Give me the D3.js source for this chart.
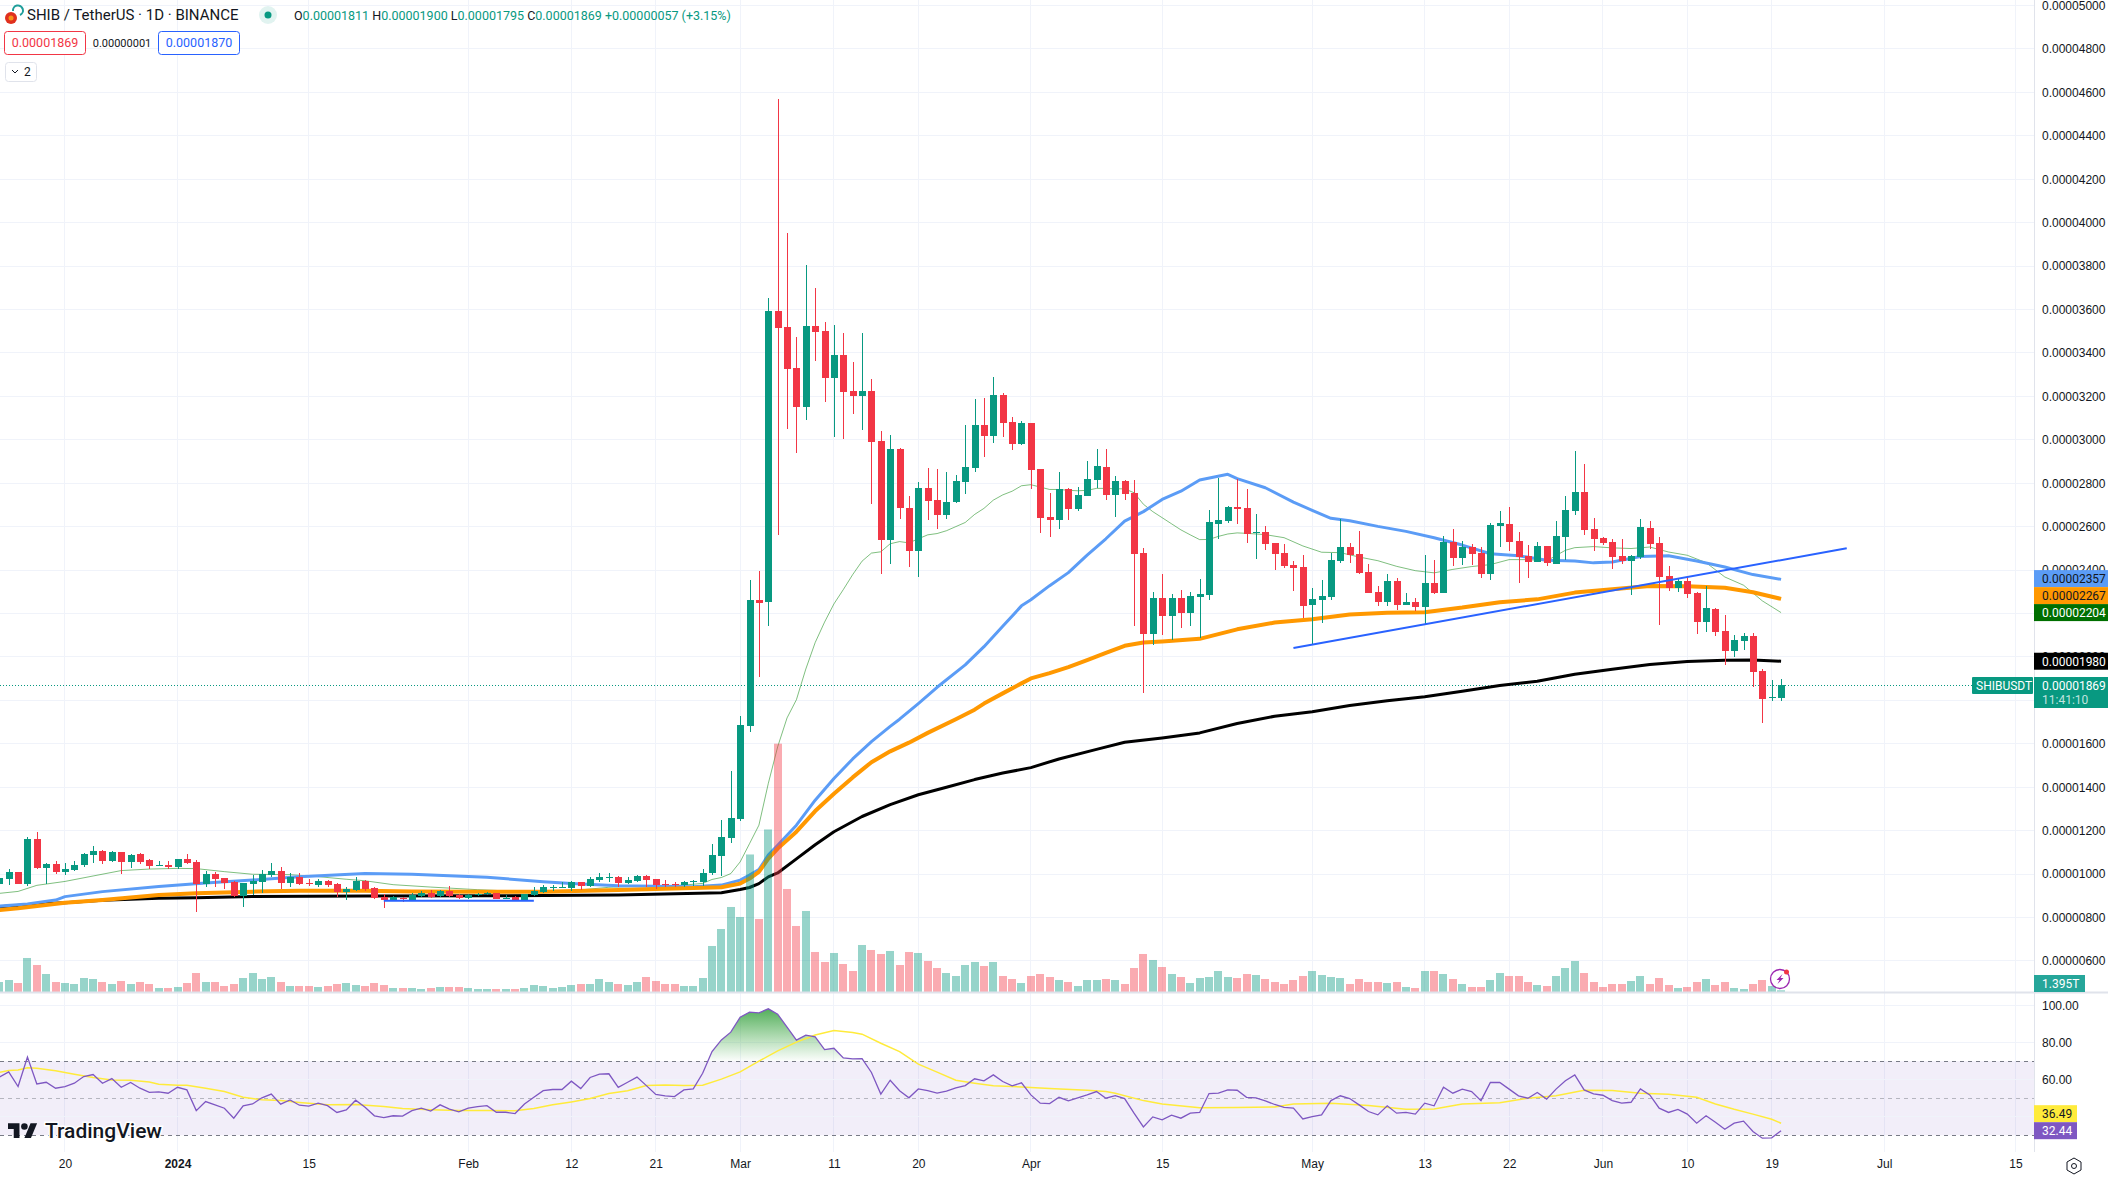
<!DOCTYPE html>
<meta charset="utf-8">
<head>
    <title>SHIB / TetherUS</title>
</head>
<style>
 html, body { margin: 0; padding: 0; background: #fff; }
 svg { display: block; font-family: Roboto, sans-serif; }
 .axis text { font-size: 12px; fill: #131722; }
 .axis .domain { display: none; }
 .grid { stroke: #f0f3fa; stroke-width: 1px; shape-rendering: crispEdges; }
</style>
<body>
<div id="chart"></div>
<script src="https://d3js.org/d3.v7.min.js"></script>
<script>
// prices are in units of 0.00000001, day 0 is 1 Jan 2024, first candle is day -19
var firstDay = -19;
var opens = [
 954,977,1009,954,1162,1028,1046,1009,1019,1042,
 1088,1106,1060,1102,1056,1092,1065,1039,1042,1032,
 1069,1056,954,1000,982,963,899,954,963,996,
 1014,959,986,959,949,968,954,917,926,968,
 936,894,880,889,880,899,912,899,922,903,
 889,903,908,912,885,894,880,903,917,936,
 937,936,963,945,972,983,986,959,968,991,
 977,954,954,949,965,963,1005,1084,1167,1253,
 1681,2261,2253,3592,3518,3329,3153,3522,3500,3284,
 3389,3224,3202,3224,2995,2540,2958,2684,2489,2778,
 2724,2654,2714,2806,2870,3069,3018,3205,3082,2980,
 3078,2866,2645,2632,2774,2679,2742,2816,2873,2744,
 2808,2753,2477,2104,2270,2187,2270,2201,2276,2284,
 2610,2624,2689,2684,2569,2574,2523,2477,2422,2413,
 2238,2261,2275,2440,2505,2472,2390,2298,2252,2348,
 2238,2252,2229,2339,2293,2528,2454,2505,2477,2380,
 2601,2610,2532,2463,2436,2509,2426,2551,2670,2758,
 2587,2546,2528,2463,2440,2459,2592,2523,2371,2316,
 2348,2293,2160,2219,2118,2026,2072,2095,1934,1810,1811];
var highs = [
 990,1022,1009,1171,1194,1049,1060,1049,1060,1096,
 1129,1111,1105,1102,1092,1099,1069,1060,1060,1069,
 1092,1065,1014,1009,982,968,959,996,1019,1051,
 1032,1005,1005,977,979,972,959,940,986,972,
 940,908,899,894,912,922,926,926,945,908,
 908,912,917,912,903,899,908,940,949,949,
 963,968,963,985,1005,1005,991,986,996,996,
 977,972,963,968,972,1023,1140,1248,1474,1727,
 2356,2394,3652,4570,3950,3472,3803,3697,3541,3528,
 3490,3357,3490,3279,3040,3022,2962,2742,2806,2870,
 2866,2853,2838,3069,3187,3192,3288,3215,3104,3087,
 3078,2866,2756,2853,2778,2784,2904,2958,2956,2831,
 2816,2816,2500,2301,2384,2288,2307,2298,2357,2675,
 2822,2693,2818,2772,2657,2601,2523,2518,2440,2468,
 2316,2353,2480,2633,2523,2578,2426,2325,2380,2362,
 2293,2273,2468,2445,2555,2587,2532,2518,2505,2615,
 2670,2689,2574,2514,2528,2509,2624,2739,2946,2887,
 2638,2551,2541,2541,2468,2633,2624,2551,2417,2362,
 2367,2298,2325,2224,2192,2100,2109,2109,1943,1893,1900];
var lows = [
 950,951,954,945,1022,954,1000,997,1016,1034,
 1052,1046,1056,1000,1028,1046,1023,1037,1023,1023,
 1046,825,940,940,931,896,848,903,912,986,
 931,940,949,945,940,940,894,880,922,922,
 885,843,879,871,879,893,889,893,894,883,
 883,899,903,885,883,880,880,899,914,922,
 936,922,926,940,965,963,940,954,965,940,
 931,940,940,940,945,945,995,992,1144,1245,
 1655,1906,2141,2561,3050,2937,3093,3363,3172,3014,
 3003,3119,3046,2705,2384,2429,2636,2416,2369,2632,
 2587,2636,2711,2752,2853,2920,2986,3012,2954,2977,
 2771,2572,2553,2591,2632,2673,2742,2778,2721,2643,
 2721,2141,1833,2054,2100,2077,2132,2141,2089,2261,
 2541,2615,2610,2523,2449,2491,2399,2408,2302,2178,
 2058,2157,2261,2431,2431,2380,2293,2233,2233,2215,
 2238,2210,2153,2288,2293,2417,2422,2422,2362,2353,
 2505,2486,2339,2362,2436,2417,2426,2445,2652,2560,
 2486,2514,2403,2426,2284,2449,2495,2146,2302,2298,
 2270,2104,2114,2095,1962,2001,2031,1861,1695,1796,1795];
var closes = [
 982,1009,954,1162,1028,1046,1009,1023,1042,1092,
 1106,1060,1102,1056,1088,1056,1037,1042,1032,1069,
 1051,954,1000,977,959,899,959,968,1000,1014,
 959,986,954,954,968,949,917,931,968,931,
 889,880,894,885,903,912,894,922,899,889,
 903,908,912,885,889,880,908,922,940,940,
 940,963,945,977,986,986,959,972,991,972,
 949,949,949,963,968,1005,1087,1170,1256,1686,
 2261,2249,3592,3515,3325,3153,3522,3496,3284,3389,
 3220,3202,3224,2990,2540,2958,2684,2489,2778,2720,
 2654,2714,2812,2876,3069,3018,3205,3078,2980,3078,
 2862,2641,2632,2774,2679,2746,2819,2879,2744,2808,
 2749,2472,2104,2270,2187,2270,2201,2279,2288,2620,
 2629,2689,2680,2564,2574,2518,2472,2417,2408,2233,
 2265,2279,2445,2505,2468,2385,2293,2252,2348,2238,
 2252,2229,2339,2293,2528,2454,2505,2472,2380,2606,
 2615,2528,2459,2436,2509,2431,2555,2675,2758,2583,
 2541,2523,2459,2440,2463,2597,2518,2367,2316,2348,
 2288,2160,2224,2114,2026,2077,2095,1930,1805,1815,1869];
// volume in trillions
var volumes = [
 8,9.6,7.2,27.2,21.6,14.4,8,7.2,6.4,11.2,
 10.4,8,6.4,8.8,6.4,8,6.4,3.2,3.2,4,
 7.2,15.2,8,8,4.8,6.4,11.2,15.2,10.4,12,
 8,4.8,4.8,4.8,4,4.8,6.4,7.2,5.6,4.8,
 7.2,5.6,3.2,3.2,3.2,2.4,3.2,4,4,4,
 3.2,2.4,2.4,2.4,2.4,2.4,3.2,5.6,4.8,3.2,
 4,5.6,6.4,6.4,10.4,8,6.4,5.6,8,12,
 8.8,6.4,6.4,4.8,4.8,11.2,36.8,50.4,68,60,
 110,58.4,130,198.6,82.4,52.8,64.8,32,24,31.2,
 22.4,16.8,37.6,33.6,30.4,32.8,21.6,32,31.2,24.8,
 19.2,15.2,12.8,21.6,24,20.8,24,12.8,10.4,7.2,
 12.8,14.4,12,9.6,8,4.8,9.6,9.6,10.4,9.6,
 6.4,19.2,30.4,25.6,20,14.4,12,7.2,11.2,12,
 16.8,12,11.2,14.4,13.6,10.4,8,6.4,9.6,12.8,
 16.8,13.6,12,11.2,6.4,10.4,8,8,7.2,8,
 4,3.2,16.8,16.8,14.4,10.4,6.4,4,4,9.6,
 15.2,12.8,12.8,8,5.6,4.8,12.8,19.2,24.8,15.2,
 8,4,6.4,6.4,8.8,12.8,6.4,11.2,5.6,3.2,
 4,8,10.4,5.6,8,3.2,2.4,6.4,9.6,4.8,1.395];
var rsi = [
 61.4,64.2,56.3,72.2,57.7,58.6,55.4,56.3,58.1,61.7,
 62.8,58.1,60.6,55.9,58.5,55.4,53.2,53.4,52.7,55.9,
 54.5,43.3,48.2,46.4,44.6,39.2,45.9,46.9,50.2,52.2,
 46.8,49.1,46.2,45.7,47.3,46,42.3,43.7,48.9,45.1,
 40.5,39.5,40.5,40.3,43.3,44.6,43,46.4,44.1,42.6,
 44.6,45.5,46,42.4,42.4,41.7,46.9,50.5,54.1,54.7,
 54.7,59.2,55.2,61.2,63,63.2,55.9,58.6,61.4,56.8,
 52,51.3,50.9,54.5,55,63.5,75.2,81.5,85.7,93.8,
 96.5,96.1,98.3,95.4,88.4,81.4,84.1,83.2,76.3,77,
 71.8,71.3,71.4,63.9,52.2,59.7,54,50.2,55,54.1,
 52.7,53.8,55.6,56.8,60.5,59.4,62.6,59,56.7,58.3,
 51.8,47.3,47.1,50.5,48.6,50.2,51.8,53.6,50,51.4,
 49.8,41.9,34.5,39.9,38.3,40.8,39.2,41.9,42.3,52.5,
 52.7,54.5,54.3,50.5,50.2,48.6,46.6,45,44.6,38.8,
 40.1,41,48.7,51.3,49.8,46.4,42.8,41,45.9,41.9,
 42.3,41.4,47.3,45.9,55.9,52.7,54.9,53.6,48.7,58.5,
 58.5,54.9,51.3,50,53.1,49.5,54.9,59.4,62.6,54.5,
 52.3,51.6,48.7,47.3,47.8,55,51.8,44.6,42.3,43.9,
 41.4,36.5,40.5,37,33.2,36.5,37.6,32,28.4,28.6,32.44];
var rsiMaDays = [-19,-18,-17,-16,-15,-13,-11,-9,-7,-5,-3,-2,0,1,3,5,7,9,11,13,16,19,22,24,27,30,33,36,38,40,
 42,44,46,48,50,52,54,56,58,60,62,64,66,68,70,72,73,75,77,79,81,83,85,87,90,93,97,99,
 100,103,105,109,113,117,119,123,127,131,134,137,141,144,147,150,153,156,159,162,164,166,168,170,171];
var rsiMa = [64,65,65.3,66.4,66.2,64.8,63,61.2,59.9,59.7,58.8,57.6,57,57,55.4,53.6,50.5,49.1,48.7,47.7,46.4,46.6,45.5,44.4,43.7,43.3,43.3,43.2,44.4,46.4,
 48,49.8,52.5,54,56.8,57.2,56.8,57,60.3,64.2,70,75.6,80.3,84.2,86.6,85.5,84.6,79.7,75.2,68.4,64.1,59.7,58.1,56.7,56.1,55.2,54.3,53.6,
 52.7,48.7,46.9,44.8,45,45.3,46.9,47.3,46,44,44.2,46.9,47.5,50,51.3,54.3,54.1,52.7,52.2,50.5,46.9,44,41.4,38.6,36.49];

var greenMaDays = [-19,-17,-15,-12,-9,-6,-3,0,2,5,8,12,15,18,20,23,27,32,37,42,46,50,54,56,57,58,59,60,61,62,63,64,
 65,66,67,68,69,70,71,72,73,74,75,76,77,78,79,80,81,82,83,84,85,86,87,88,89,90,91,92,93,94,95,96,97,98,99,100,101,102,103,104,105,106,107,108,109,
 110,111,112,113,114,116,118,120,122,124,126,128,130,132,134,136,138,140,142,144,146,148,149,151,153,155,157,159,161,163,165,167,169,171];
var greenMa = [911,920,948,966,991,1016,1023,1026,1025,1011,999,997,988,976,969,951,940,928,919,923,939,945,949,957,975,984,1002,1056,1140,1225,1417,1586,
 1719,1803,1944,2066,2160,2244,2310,2379,2441,2478,2484,2521,2531,2525,2544,2562,2568,2581,2600,2619,2656,2684,2722,2746,2763,2788,2793,2782,2771,2771,2767,2765,2767,2776,2776,2774,2774,2756,2703,2669,2641,2613,2585,2562,2540,
 2541,2555,2566,2571,2569,2563,2549,2511,2482,2480,2460,2443,2417,2397,2387,2403,2416,2425,2448,2448,2442,2491,2503,2508,2502,2499,2506,2483,2468,2434,2368,2330,2258,2204];
var blueMaDays = [-19,-16,-13,-12,-8,-2,3,8,13,20,25,33,39,42,47,55,58,60,61,62,63,64,66,68,70,72,74,76,77,79,81,84,86,88,90,91,93,95,97,99,101,103,105,107,109,112,113,116,119,121,123,125,128,131,134,137,140,143,146,149,151,153,156,159,162,165,168,171];
var blueMa = [852,862,880,896,919,943,959,972,988,1002,999,985,965,957,946,942,949,972,995,1021,1087,1133,1225,1340,1440,1530,1610,1680,1713,1785,1860,1963,2047,2141,2235,2263,2328,2388,2469,2544,2625,2669,2725,2763,2815,2841,2821,2779,2713,2675,2638,2627,2601,2578,2549,2515,2475,2466,2445,2442,2433,2437,2462,2466,2442,2414,2379,2357];
var orangeMaDays = [-19,-17,-12,-8,-2,2,8,13,20,25,33,39,47,58,60,61,62,63,64,66,68,70,72,74,76,78,80,83,85,86,88,90,91,93,95,97,99,101,103,105,109,113,117,121,125,129,133,137,141,145,149,153,157,161,165,168,171];
var orangeMa = [834,842,868,880,903,911,919,923,923,920,919,919,926,939,956,979,1010,1071,1117,1195,1290,1370,1445,1515,1565,1605,1650,1713,1757,1785,1832,1878,1901,1925,1953,1985,2019,2051,2066,2071,2083,2127,2158,2173,2195,2203,2206,2227,2252,2265,2296,2311,2327,2325,2318,2298,2267];
var blackMaDays = [-19,-15,-12,-8,-2,2,8,20,33,47,58,60,61,62,63,64,66,68,70,73,76,79,82,85,88,91,94,98,101,105,109,113,117,121,125,129,133,137,141,145,149,153,157,161,165,168,171];
var blackMa = [849,862,868,879,888,891,896,899,900,903,914,929,938,956,987,1005,1070,1135,1195,1265,1320,1365,1400,1435,1465,1490,1530,1574,1607,1627,1650,1693,1727,1747,1776,1798,1816,1842,1868,1888,1920,1943,1965,1979,1985,1986,1980];

var trendDaysA = [22, 38], trendPricesA = [877, 877];
var trendDaysB = [119, 178], trendPricesB = [2041, 2500];

var dateTickDays = [-12,0,14,31,42,51,60,70,79,91,105,121,133,142,152,161,170,182,196];
var dateTickLabels = ["20","2024","15","Feb","12","21","Mar","11","20","Apr","15","May","13","22","Jun","10","19","Jul","15"];
var priceTicks = d3.range(600, 5001, 200);
var rsiTicks = [100, 80, 60, 40];

var width = 2108, height = 1177;
var axisX = 2034, paneBottom = 992, rsiBottom = 1152;

var svg = d3.select("#chart").append("svg")
            .attr("width", width)
            .attr("height", height);

var x = d3.scaleLinear().domain([0, 170]).range([177.5, 1771.7]);
var y = d3.scaleLinear().domain([600, 5000]).range([960.9, 5.45]);
var yVol = d3.scaleLinear().domain([0, 198.6]).range([paneBottom, 743.7]);
var yRsi = d3.scaleLinear().domain([30, 100]).range([1135.2, 1005.7]);

var up = "#089981", down = "#f23645";
var days = opens.map(function(d, i) { return firstDay + i; });
var candles = days.map(function(d, i) {
    return {day: d, o: opens[i], h: highs[i], l: lows[i], c: closes[i], v: volumes[i], rsi: rsi[i]};
});

var defs = svg.append("defs");
defs.append("clipPath").attr("id", "clip-main").append("rect")
    .attr("width", axisX).attr("height", paneBottom);
defs.append("clipPath").attr("id", "clip-over").append("rect")
    .attr("width", axisX).attr("height", yRsi(70));
var grad = defs.append("linearGradient").attr("id", "rsi-fill")
    .attr("gradientUnits", "userSpaceOnUse")
    .attr("x1", 0).attr("x2", 0).attr("y1", yRsi(100)).attr("y2", yRsi(70));
grad.append("stop").attr("offset", 0).attr("stop-color", "#3fa548").attr("stop-opacity", 0.95);
grad.append("stop").attr("offset", 1).attr("stop-color", "#4caf50").attr("stop-opacity", 0.02);

// grid
svg.append("g").selectAll("line").data(priceTicks).enter().append("line")
   .attr("class", "grid")
   .attr("x1", 0).attr("x2", axisX)
   .attr("y1", function(d) { return y(d); }).attr("y2", function(d) { return y(d); });
svg.append("g").selectAll("line").data(dateTickDays).enter().append("line")
   .attr("class", "grid")
   .attr("x1", function(d) { return x(d); }).attr("x2", function(d) { return x(d); })
   .attr("y1", 0).attr("y2", rsiBottom);

// rsi pane background
svg.append("rect")
   .attr("x", 0).attr("width", axisX)
   .attr("y", yRsi(70)).attr("height", yRsi(30) - yRsi(70))
   .attr("fill", "#7e57c2").attr("fill-opacity", 0.1);
svg.append("g").selectAll("line").data(rsiTicks).enter().append("line")
   .attr("class", "grid")
   .attr("x1", 0).attr("x2", axisX)
   .attr("y1", function(d) { return yRsi(d); }).attr("y2", function(d) { return yRsi(d); });
svg.append("g").selectAll("line").data([70, 50, 30]).enter().append("line")
   .attr("x1", 0).attr("x2", axisX)
   .attr("y1", function(d) { return yRsi(d); }).attr("y2", function(d) { return yRsi(d); })
   .attr("stroke", "#787b86")
   .attr("stroke-opacity", function(d) { return d == 50 ? 0.5 : 1; })
   .attr("stroke-dasharray", "4 4")
   .attr("shape-rendering", "crispEdges");

var main = svg.append("g").attr("clip-path", "url(#clip-main)");

// last price line
main.append("line")
    .attr("x1", 0).attr("x2", 1972)
    .attr("y1", Math.round(y(1869)) + 0.5).attr("y2", Math.round(y(1869)) + 0.5)
    .attr("stroke", up).attr("stroke-dasharray", "1 2");

// moving averages
function drawMa(dayList, values, color, w, opacity) {
    var line = d3.line()
                 .x(function(d) { return x(d); })
                 .y(function(d, i) { return y(values[i]); });
    main.append("path")
        .attr("d", line(dayList))
        .attr("fill", "none")
        .attr("stroke", color)
        .attr("stroke-width", w)
        .attr("stroke-opacity", opacity)
        .attr("stroke-linejoin", "round");
}
drawMa(greenMaDays, greenMa, "#008000", 1, 0.5);
drawMa(blackMaDays, blackMa, "#000000", 3, 1);
drawMa(blueMaDays, blueMa, "#5b9cf6", 3, 1);
drawMa(orangeMaDays, orangeMa, "#ff9800", 4, 1);

// candles
var candle = main.append("g").selectAll("g").data(candles).enter().append("g")
    .attr("fill", function(d) { return d.c >= d.o ? up : down; });
candle.append("rect")
      .attr("x", function(d) { return Math.round(x(d.day)); })
      .attr("width", 1)
      .attr("y", function(d) { return Math.round(y(d.h)); })
      .attr("height", function(d) { return Math.max(1, Math.round(y(d.l)) - Math.round(y(d.h))); });
candle.append("rect")
      .attr("x", function(d) { return Math.round(x(d.day)) - 3; })
      .attr("width", 7)
      .attr("y", function(d) { return Math.round(y(Math.max(d.o, d.c))); })
      .attr("height", function(d) { return Math.max(1, Math.round(y(Math.min(d.o, d.c))) - Math.round(y(Math.max(d.o, d.c)))); });

// volume goes over the lines, half transparent
main.append("g").selectAll("rect").data(candles).enter().append("rect")
    .attr("x", function(d) { return Math.round(x(d.day)) - 4; })
    .attr("width", 8)
    .attr("y", function(d) { return yVol(d.v); })
    .attr("height", function(d) { return paneBottom - yVol(d.v); })
    .attr("fill", function(d) { return d.c >= d.o ? up : down; })
    .attr("fill-opacity", 0.42);

// drawn trend lines
function drawTrend(dayList, prices) {
    main.append("line")
        .attr("x1", x(dayList[0])).attr("x2", x(dayList[1]))
        .attr("y1", y(prices[0])).attr("y2", y(prices[1]))
        .attr("stroke", "#2962ff").attr("stroke-width", 2);
}
drawTrend(trendDaysA, trendPricesA);
drawTrend(trendDaysB, trendPricesB);

// rsi
var rsiLine = d3.line()
                .x(function(d) { return x(d.day); })
                .y(function(d) { return yRsi(d.rsi); });
var rsiArea = d3.area()
                .x(function(d) { return x(d.day); })
                .y0(yRsi(70))
                .y1(function(d) { return yRsi(d.rsi); });
svg.append("path").datum(candles)
   .attr("d", rsiArea)
   .attr("clip-path", "url(#clip-over)")
   .attr("fill", "url(#rsi-fill)");
svg.append("path")
   .attr("d", d3.line().x(function(d) { return x(d); }).y(function(d, i) { return yRsi(rsiMa[i]); })(rsiMaDays))
   .attr("fill", "none").attr("stroke", "#ffeb3b").attr("stroke-width", 1.5);
svg.append("path").datum(candles)
   .attr("d", rsiLine)
   .attr("fill", "none").attr("stroke", "#7e57c2").attr("stroke-width", 1.3);

// pane borders
svg.append("line").attr("x1", 0).attr("x2", width).attr("y1", paneBottom + 0.5).attr("y2", paneBottom + 0.5)
   .attr("stroke", "#e0e3eb").attr("stroke-width", 2);
svg.append("line").attr("x1", axisX + 0.5).attr("x2", axisX + 0.5).attr("y1", 0).attr("y2", rsiBottom)
   .attr("stroke", "#e0e3eb");

// axes
svg.append("g").attr("class", "axis")
   .attr("transform", "translate(" + axisX + ",0)")
   .call(d3.axisRight(y).tickValues(priceTicks).tickSize(0).tickPadding(8)
           .tickFormat(function(d) { return (d / 1e8).toFixed(8); }));
svg.append("g").attr("class", "axis")
   .attr("transform", "translate(" + axisX + ",0)")
   .call(d3.axisRight(yRsi).tickValues(rsiTicks).tickSize(0).tickPadding(8)
           .tickFormat(function(d) { return d.toFixed(2); }));
svg.append("g").attr("class", "axis")
   .attr("transform", "translate(0,1154)")
   .call(d3.axisBottom(x).tickValues(dateTickDays).tickSize(0).tickPadding(5)
           .tickFormat(function(d, i) { return dateTickLabels[i]; }))
   .selectAll("text")
   .style("font-weight", function(d, i) { return dateTickLabels[i] == "2024" ? 700 : 400; });

// price labels stacked so they do not overlap
function stackLabels(list, scale, h) {
    var next = Infinity;
    list.slice().reverse().forEach(function(d) {
        d.cy = Math.min(scale(d.value), next - h);
        next = d.cy;
    });
    return list;
}
function drawLabel(d, h, w) {
    svg.append("rect").attr("x", axisX).attr("width", w || 74)
       .attr("y", d.cy - h / 2).attr("height", h).attr("fill", d.bg);
    svg.append("text").attr("x", axisX + 8).attr("y", d.cy + 4.3)
       .attr("font-size", 12).attr("fill", d.fg).text(d.text);
}
stackLabels([
    {value: 2357, text: "0.00002357", bg: "#5b9cf6", fg: "#131722"},
    {value: 2267, text: "0.00002267", bg: "#ff9800", fg: "#131722"},
    {value: 2204, text: "0.00002204", bg: "#006f00", fg: "#ffffff"}
], y, 17).forEach(function(d) { drawLabel(d, 17); });
drawLabel({cy: y(1980), bg: "#000000", fg: "#ffffff", text: "0.00001980"}, 17);

svg.append("rect").attr("x", axisX).attr("width", 74).attr("y", 677).attr("height", 31).attr("fill", up);
svg.append("text").attr("x", axisX + 8).attr("y", 689.5).attr("font-size", 12).attr("fill", "#fff").text("0.00001869");
svg.append("text").attr("x", axisX + 8).attr("y", 704).attr("font-size", 12).attr("fill", "#fff").attr("fill-opacity", 0.75).text("11:41:10");
svg.append("rect").attr("x", 1972).attr("width", 61).attr("y", 677).attr("height", 17).attr("rx", 1).attr("fill", up);
svg.append("text").attr("x", 1976).attr("y", 689.5).attr("font-size", 12).attr("fill", "#fff").text("SHIBUSDT");

svg.append("rect").attr("x", axisX).attr("width", 51).attr("y", 975).attr("height", 17).attr("fill", "#26a69a");
svg.append("text").attr("x", axisX + 8).attr("y", 988).attr("font-size", 12).attr("fill", "#fff").text("1.395T");

stackLabels([
    {value: 36.49, text: "36.49", bg: "#ffeb3b", fg: "#131722"},
    {value: 32.44, text: "32.44", bg: "#7e57c2", fg: "#ffffff"}
], yRsi, 17).forEach(function(d) { drawLabel(d, 17, 43); });

// header
var head = svg.append("g");
head.append("circle").attr("cx", 11).attr("cy", 18).attr("r", 6).attr("fill", "#e0301e");
head.append("circle").attr("cx", 11).attr("cy", 18).attr("r", 2.5).attr("fill", "#f7931a");
head.append("path").attr("d", "M13 11 a5 5 0 1 1 7 4").attr("fill", "none").attr("stroke", "#1f9e9a").attr("stroke-width", 2);
head.append("text").attr("x", 27).attr("y", 20).attr("font-size", 15).attr("fill", "#131722")
    .text("SHIB / TetherUS \u00b7 1D \u00b7 BINANCE");
head.append("circle").attr("cx", 268).attr("cy", 15).attr("r", 9).attr("fill", up).attr("fill-opacity", 0.12);
head.append("circle").attr("cx", 268).attr("cy", 15).attr("r", 3.5).attr("fill", up);

var ohlc = head.append("text").attr("x", 294).attr("y", 20).attr("font-size", 12.5).attr("fill", up);
[["O", "0.00001811 "], ["H", "0.00001900 "], ["L", "0.00001795 "], ["C", "0.00001869 "]].forEach(function(p) {
    ohlc.append("tspan").attr("fill", "#131722").text(p[0]);
    ohlc.append("tspan").text(p[1]);
});
ohlc.append("tspan").text("+0.00000057 (+3.15%)");

head.append("rect").attr("x", 4.5).attr("y", 31.5).attr("width", 81).attr("height", 23).attr("rx", 3)
    .attr("fill", "#fff").attr("stroke", "#f23645");
head.append("text").attr("x", 45).attr("y", 47).attr("text-anchor", "middle").attr("font-size", 12.5).attr("fill", "#f23645").text("0.00001869");
head.append("text").attr("x", 122).attr("y", 46.5).attr("text-anchor", "middle").attr("font-size", 11).attr("fill", "#131722").text("0.00000001");
head.append("rect").attr("x", 158.5).attr("y", 31.5).attr("width", 81).attr("height", 23).attr("rx", 3)
    .attr("fill", "#fff").attr("stroke", "#2962ff");
head.append("text").attr("x", 199).attr("y", 47).attr("text-anchor", "middle").attr("font-size", 12.5).attr("fill", "#2962ff").text("0.00001870");
head.append("rect").attr("x", 5.5).attr("y", 62.5).attr("width", 31).attr("height", 19).attr("rx", 3)
    .attr("fill", "#fff").attr("stroke", "#e0e3eb");
head.append("path").attr("d", "M12 70 l3 3 l3 -3").attr("fill", "none").attr("stroke", "#131722");
head.append("text").attr("x", 24).attr("y", 76).attr("font-size", 12).attr("fill", "#131722").text("2");

// tradingview logo
var logo = svg.append("g").attr("transform", "translate(8,1120)");
logo.append("path").attr("transform", "scale(0.82)")
    .attr("d", "M14 22H7V11H0V4h14v18zM28 22h-8l7.5-18h8L28 22z")
    .attr("fill", "#131722");
logo.append("circle").attr("transform", "scale(0.82)").attr("cx", 20).attr("cy", 8).attr("r", 4).attr("fill", "#131722");
logo.append("text").attr("x", 37).attr("y", 18).attr("font-size", 21).attr("font-weight", 500)
    .attr("fill", "#131722").attr("stroke", "#fff").attr("stroke-width", 3)
    .attr("paint-order", "stroke").text("TradingView");

// alert icon and settings icon
var bolt = svg.append("g").attr("transform", "translate(1780,979)");
bolt.append("circle").attr("r", 9.5).attr("fill", "#fff").attr("fill-opacity", 0.6).attr("stroke", "#9c27b0").attr("stroke-width", 1.3);
bolt.append("path").attr("d", "M2.5 -5 L-3.5 1 L-0.5 1 L-2.5 5 L3.5 -1 L0.5 -1 Z").attr("fill", "#9c27b0");
bolt.append("circle").attr("cx", 6.5).attr("cy", -7).attr("r", 2.5).attr("fill", "#f23645");

var gear = svg.append("g").attr("transform", "translate(2074,1166)");
gear.append("path").attr("d", "M0 -8 L7 -4 L7 4 L0 8 L-7 4 L-7 -4 Z").attr("fill", "none").attr("stroke", "#131722");
gear.append("circle").attr("r", 2.5).attr("fill", "none").attr("stroke", "#131722");
</script>
</body>
